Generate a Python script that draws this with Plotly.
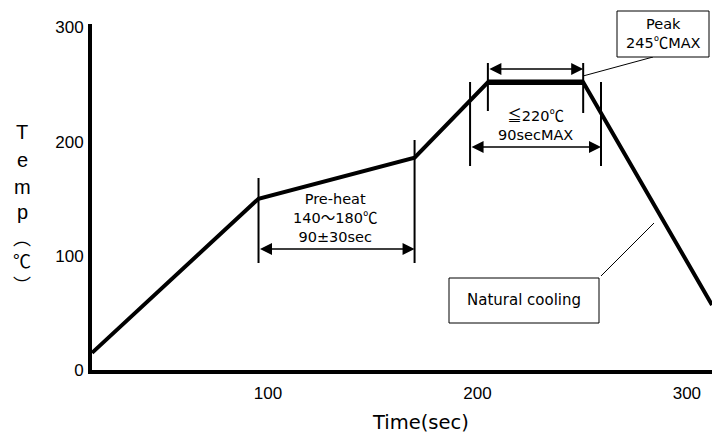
import plotly.graph_objects as go

# ---------------- data ----------------
time_s = [16, 95.5, 170, 205, 250.5, 312]          # profile break points (sec)
temp_c = [15, 150, 186, 252, 252, 57]               # temperature at those points (℃)
peak_idx = [3, 4]                                   # peak plateau segment
reflow_window = [196.5, 259]                        # ≦220℃ window (sec)
x_ticks = [100, 200, 300]
y_ticks = [0, 100, 200, 300]
ylabel_letters = ["T", "e", "m", "p"]
ylabel_unit = "︵<br>℃<br>︶"

# ---------------- layout geometry ----------------
W, H = 712, 437
L, R, TOP, B = 92, 712, 24, 370
XMIN, XMAX = 16, 312
YMIN, YMAX = 0, 303
sx = (R - L) / (XMAX - XMIN)
sy = (B - TOP) / (YMAX - YMIN)

def dx(px):
    return XMIN + (px - L) / sx

def dy(py):
    return YMIN + (B - py) / sy

def pxp(px):
    return (px - L) / (R - L)

def pyp(py):
    return (B - py) / (B - TOP)

CJK = "<span style=\"font-family:'Noto Sans CJK JP'\">%s</span>"
TXT = dict(family="DejaVu Sans, Noto Sans CJK JP", size=14.5, color="#000")
BLACK = "#000"

fig = go.Figure()
fig.add_trace(go.Scatter(x=time_s, y=temp_c, mode="lines",
                         line=dict(color=BLACK, width=4), hoverinfo="skip"))
fig.add_trace(go.Scatter(x=[time_s[i] for i in peak_idx], y=[temp_c[i] for i in peak_idx],
                         mode="lines", line=dict(color=BLACK, width=5.5), hoverinfo="skip"))

shapes = []
anns = []

def vline(t, y0, y1, w=2):
    shapes.append(dict(type="line", xref="x", yref="y", x0=t, x1=t, y0=y0, y1=y1,
                       line=dict(color=BLACK, width=w)))

def darrow(t0, t1, y):
    anns.append(dict(xref="x", yref="y", axref="x", ayref="y", x=t1, y=y, ax=t0, ay=y,
                     text="", showarrow=True, arrowhead=2, arrowside="end+start",
                     arrowsize=1.6, arrowwidth=1.5, arrowcolor=BLACK, standoff=0,
                     startstandoff=0))

def text(px, py, s, font=TXT):
    anns.append(dict(xref="paper", yref="paper", x=pxp(px), y=pyp(py), text=s,
                     showarrow=False, xanchor="center", yanchor="middle", font=font,
                     borderpad=0))

# pre-heat window
vline(time_s[1], dy(178), dy(263))
vline(time_s[2], dy(140), dy(263))
darrow(time_s[1], time_s[2], dy(249))
text(335, 218, "Pre-heat<br>140" + CJK % "～" + "180" + CJK % "℃" + "<br>90±30sec")

# ≦220℃ window
vline(reflow_window[0], dy(82), dy(166))
vline(reflow_window[1], dy(82), dy(166))
darrow(reflow_window[0], reflow_window[1], dy(147))
text(535, 123, CJK % "≦" + "220" + CJK % "℃" + "<br>90secMAX")

# peak window
vline(time_s[peak_idx[0]], dy(63), dy(111))
vline(time_s[peak_idx[1]], dy(63), dy(113))
darrow(time_s[peak_idx[0]], time_s[peak_idx[1]], dy(69))

# peak callout box
shapes.append(dict(type="line", xref="paper", yref="paper", x0=pxp(583), y0=pyp(76),
                   x1=pxp(653), y1=pyp(57), line=dict(color=BLACK, width=1)))
shapes.append(dict(type="rect", xref="paper", yref="paper", x0=pxp(617), x1=pxp(709),
                   y0=pyp(57), y1=pyp(11), line=dict(color=BLACK, width=1),
                   fillcolor="white"))
text(663, 34, "Peak<br>245" + CJK % "℃" + "MAX")

# natural cooling callout box
shapes.append(dict(type="line", xref="paper", yref="paper", x0=pxp(601), y0=pyp(276),
                   x1=pxp(654), y1=pyp(223), line=dict(color=BLACK, width=1)))
shapes.append(dict(type="rect", xref="paper", yref="paper", x0=pxp(449), x1=pxp(599),
                   y0=pyp(323), y1=pyp(278), line=dict(color=BLACK, width=1),
                   fillcolor="white"))
text(524, 300, "Natural cooling", font=dict(family="DejaVu Sans", size=15, color=BLACK))

# axis titles
text(420, 422, "Time(sec)", font=dict(family="DejaVu Sans", size=19.5, color=BLACK))
ylab_y = [132, 160, 187, 212]
for ch, yy in zip(ylabel_letters, ylab_y):
    text(22, yy, ch, font=dict(family="Liberation Sans", size=20, color=BLACK))
text(22, 260, ylabel_unit, font=dict(family="Noto Sans CJK JP", size=18, color=BLACK))

tick_font = dict(family="Liberation Sans, Arial", size=17, color=BLACK)
fig.update_layout(
    width=W, height=H,
    margin=dict(l=L, r=W - R, t=TOP, b=H - B),
    paper_bgcolor="white", plot_bgcolor="white",
    showlegend=False, hovermode=False,
    shapes=shapes, annotations=anns,
    xaxis=dict(range=[XMIN, XMAX], tickvals=x_ticks, ticktext=[str(v) for v in x_ticks],
               showgrid=False, zeroline=False, showline=True, linecolor=BLACK, linewidth=4,
               ticks="", tickfont=tick_font, ticklabelstandoff=5, fixedrange=True),
    yaxis=dict(range=[YMIN, YMAX], tickvals=y_ticks, ticktext=[str(v) for v in y_ticks],
               showgrid=False, zeroline=False, showline=True, linecolor=BLACK, linewidth=4,
               ticks="", tickfont=tick_font, ticklabelstandoff=1, fixedrange=True),
)

fig.write_html("out.html", config={"displayModeBar": False, "staticPlot": True},
               post_script="document.body.style.margin='0px';document.body.style.overflow='hidden';")
